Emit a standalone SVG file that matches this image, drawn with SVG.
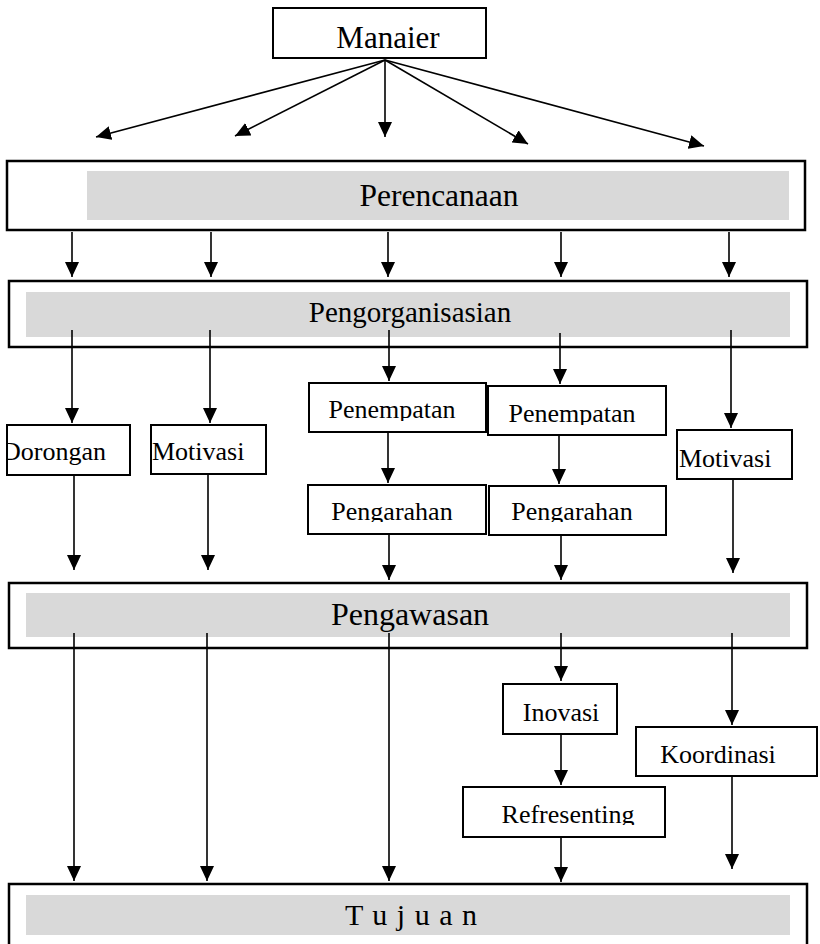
<svg xmlns="http://www.w3.org/2000/svg" width="820" height="944" viewBox="0 0 820 944">
<style>
.box{fill:#fff;stroke:#000;stroke-width:2}
.outer{fill:#fff;stroke:#000;stroke-width:2.5}
.inner{fill:#d9d9d9;stroke:none}
.t{font-family:"Liberation Serif","Times New Roman",serif;fill:#000;font-size:26px}
.c{text-anchor:middle}
.ln{stroke:#000;stroke-width:1.6;fill:none;marker-end:url(#ah)}
</style>
<defs>
<marker id="ah" markerUnits="userSpaceOnUse" markerWidth="16" markerHeight="14" refX="15" refY="7" orient="auto">
<path d="M0,0 L15,7 L0,14 Z" fill="#000"/>
</marker>
<clipPath id="cd"><rect x="7" y="425" width="123" height="50"/></clipPath>
<clipPath id="cp1"><rect x="300" y="380" width="200" height="41"/></clipPath>
<clipPath id="cp2"><rect x="480" y="380" width="200" height="45"/></clipPath>
<clipPath id="cg1"><rect x="300" y="480" width="200" height="42"/></clipPath>
<clipPath id="cg2"><rect x="480" y="480" width="200" height="42"/></clipPath>
<clipPath id="cr"><rect x="460" y="785" width="210" height="40"/></clipPath>
</defs>
<rect width="820" height="944" fill="#fff"/>

<g id="manajer">
<rect class="box" x="273" y="8" width="213" height="50"/>
<text class="t c" x="388" y="48" style="font-size:31px">Manaier</text>
</g>

<g id="perencanaan">
<rect class="outer" x="7" y="161" width="798" height="69"/>
<rect class="inner" x="87" y="171" width="702" height="49"/>
<text class="t c" x="439" y="206" style="font-size:31.5px">Perencanaan</text>
</g>

<g id="pengorganisasian">
<rect class="outer" x="9" y="281" width="798" height="66"/>
<rect class="inner" x="26" y="292" width="764" height="45"/>
<text class="t c" x="410" y="322" style="font-size:29px">Pengorganisasian</text>
</g>

<g id="dorongan">
<rect class="box" x="7" y="425" width="123" height="50"/>
<text class="t" x="2" y="460" clip-path="url(#cd)">Dorongan</text>
</g>

<g id="motivasi1">
<rect class="box" x="151" y="425" width="115" height="49"/>
<text class="t" x="152" y="460">Motivasi</text>
</g>

<g id="penempatan1">
<rect class="box" x="309" y="383" width="177" height="49"/>
<text class="t c" x="392" y="418" clip-path="url(#cp1)">Penempatan</text>
</g>

<g id="penempatan2">
<rect class="box" x="488" y="386" width="178" height="49"/>
<text class="t c" x="572" y="422" clip-path="url(#cp2)">Penempatan</text>
</g>

<g id="pengarahan1">
<rect class="box" x="308" y="485" width="178" height="49"/>
<text class="t c" x="392" y="520" clip-path="url(#cg1)">Pengarahan</text>
</g>

<g id="pengarahan2">
<rect class="box" x="489" y="486" width="177" height="49"/>
<text class="t c" x="572" y="520" clip-path="url(#cg2)">Pengarahan</text>
</g>

<g id="motivasi2">
<rect class="box" x="677" y="430" width="115" height="49"/>
<text class="t" x="679" y="467">Motivasi</text>
</g>

<g id="pengawasan">
<rect class="outer" x="9" y="583" width="798" height="65"/>
<rect class="inner" x="26" y="593" width="764" height="44"/>
<text class="t c" x="410" y="625" style="font-size:32px">Pengawasan</text>
</g>

<g id="inovasi">
<rect class="box" x="503" y="684" width="114" height="50"/>
<text class="t c" x="561" y="721">Inovasi</text>
</g>

<g id="koordinasi">
<rect class="box" x="636" y="727" width="181" height="49"/>
<text class="t c" x="718" y="763">Koordinasi</text>
</g>

<g id="refresenting">
<rect class="box" x="463" y="787" width="202" height="50"/>
<text class="t c" x="568" y="823" clip-path="url(#cr)">Refresenting</text>
</g>

<g id="tujuan">
<rect class="outer" x="9" y="884" width="798" height="70"/>
<rect class="inner" x="26" y="895" width="764" height="40"/>
<text class="t" x="345" y="925" style="font-size:30px" textLength="132" lengthAdjust="spacing">T u j u a n</text>
</g>

<g id="connectors">
<line class="ln" x1="385" y1="60" x2="96" y2="137"/>
<line class="ln" x1="385" y1="60" x2="235" y2="136"/>
<line class="ln" x1="385" y1="60" x2="385" y2="137"/>
<line class="ln" x1="385" y1="60" x2="528" y2="144"/>
<line class="ln" x1="385" y1="60" x2="704" y2="146"/>

<line class="ln" x1="72" y1="232" x2="72" y2="277"/>
<line class="ln" x1="211" y1="232" x2="211" y2="277"/>
<line class="ln" x1="388" y1="232" x2="388" y2="277"/>
<line class="ln" x1="561" y1="232" x2="561" y2="277"/>
<line class="ln" x1="729" y1="232" x2="729" y2="277"/>

<line class="ln" x1="72" y1="330" x2="72" y2="423"/>
<line class="ln" x1="210" y1="330" x2="210" y2="423"/>
<line class="ln" x1="389" y1="330" x2="389" y2="381"/>
<line class="ln" x1="560" y1="333" x2="560" y2="384"/>
<line class="ln" x1="731" y1="330" x2="731" y2="428"/>

<line class="ln" x1="388" y1="432" x2="388" y2="483"/>
<line class="ln" x1="559" y1="435" x2="559" y2="484"/>

<line class="ln" x1="74" y1="475" x2="74" y2="570"/>
<line class="ln" x1="208" y1="474" x2="208" y2="570"/>
<line class="ln" x1="389" y1="534" x2="389" y2="580"/>
<line class="ln" x1="561" y1="535" x2="561" y2="580"/>
<line class="ln" x1="733" y1="479" x2="733" y2="573"/>

<line class="ln" x1="74" y1="633" x2="74" y2="881"/>
<line class="ln" x1="207" y1="633" x2="207" y2="881"/>
<line class="ln" x1="389" y1="633" x2="389" y2="881"/>
<line class="ln" x1="561" y1="633" x2="561" y2="681"/>
<line class="ln" x1="732" y1="633" x2="732" y2="725"/>

<line class="ln" x1="561" y1="734" x2="561" y2="785"/>
<line class="ln" x1="561" y1="837" x2="561" y2="882"/>
<line class="ln" x1="732" y1="776" x2="732" y2="869"/>
</g>
</svg>
